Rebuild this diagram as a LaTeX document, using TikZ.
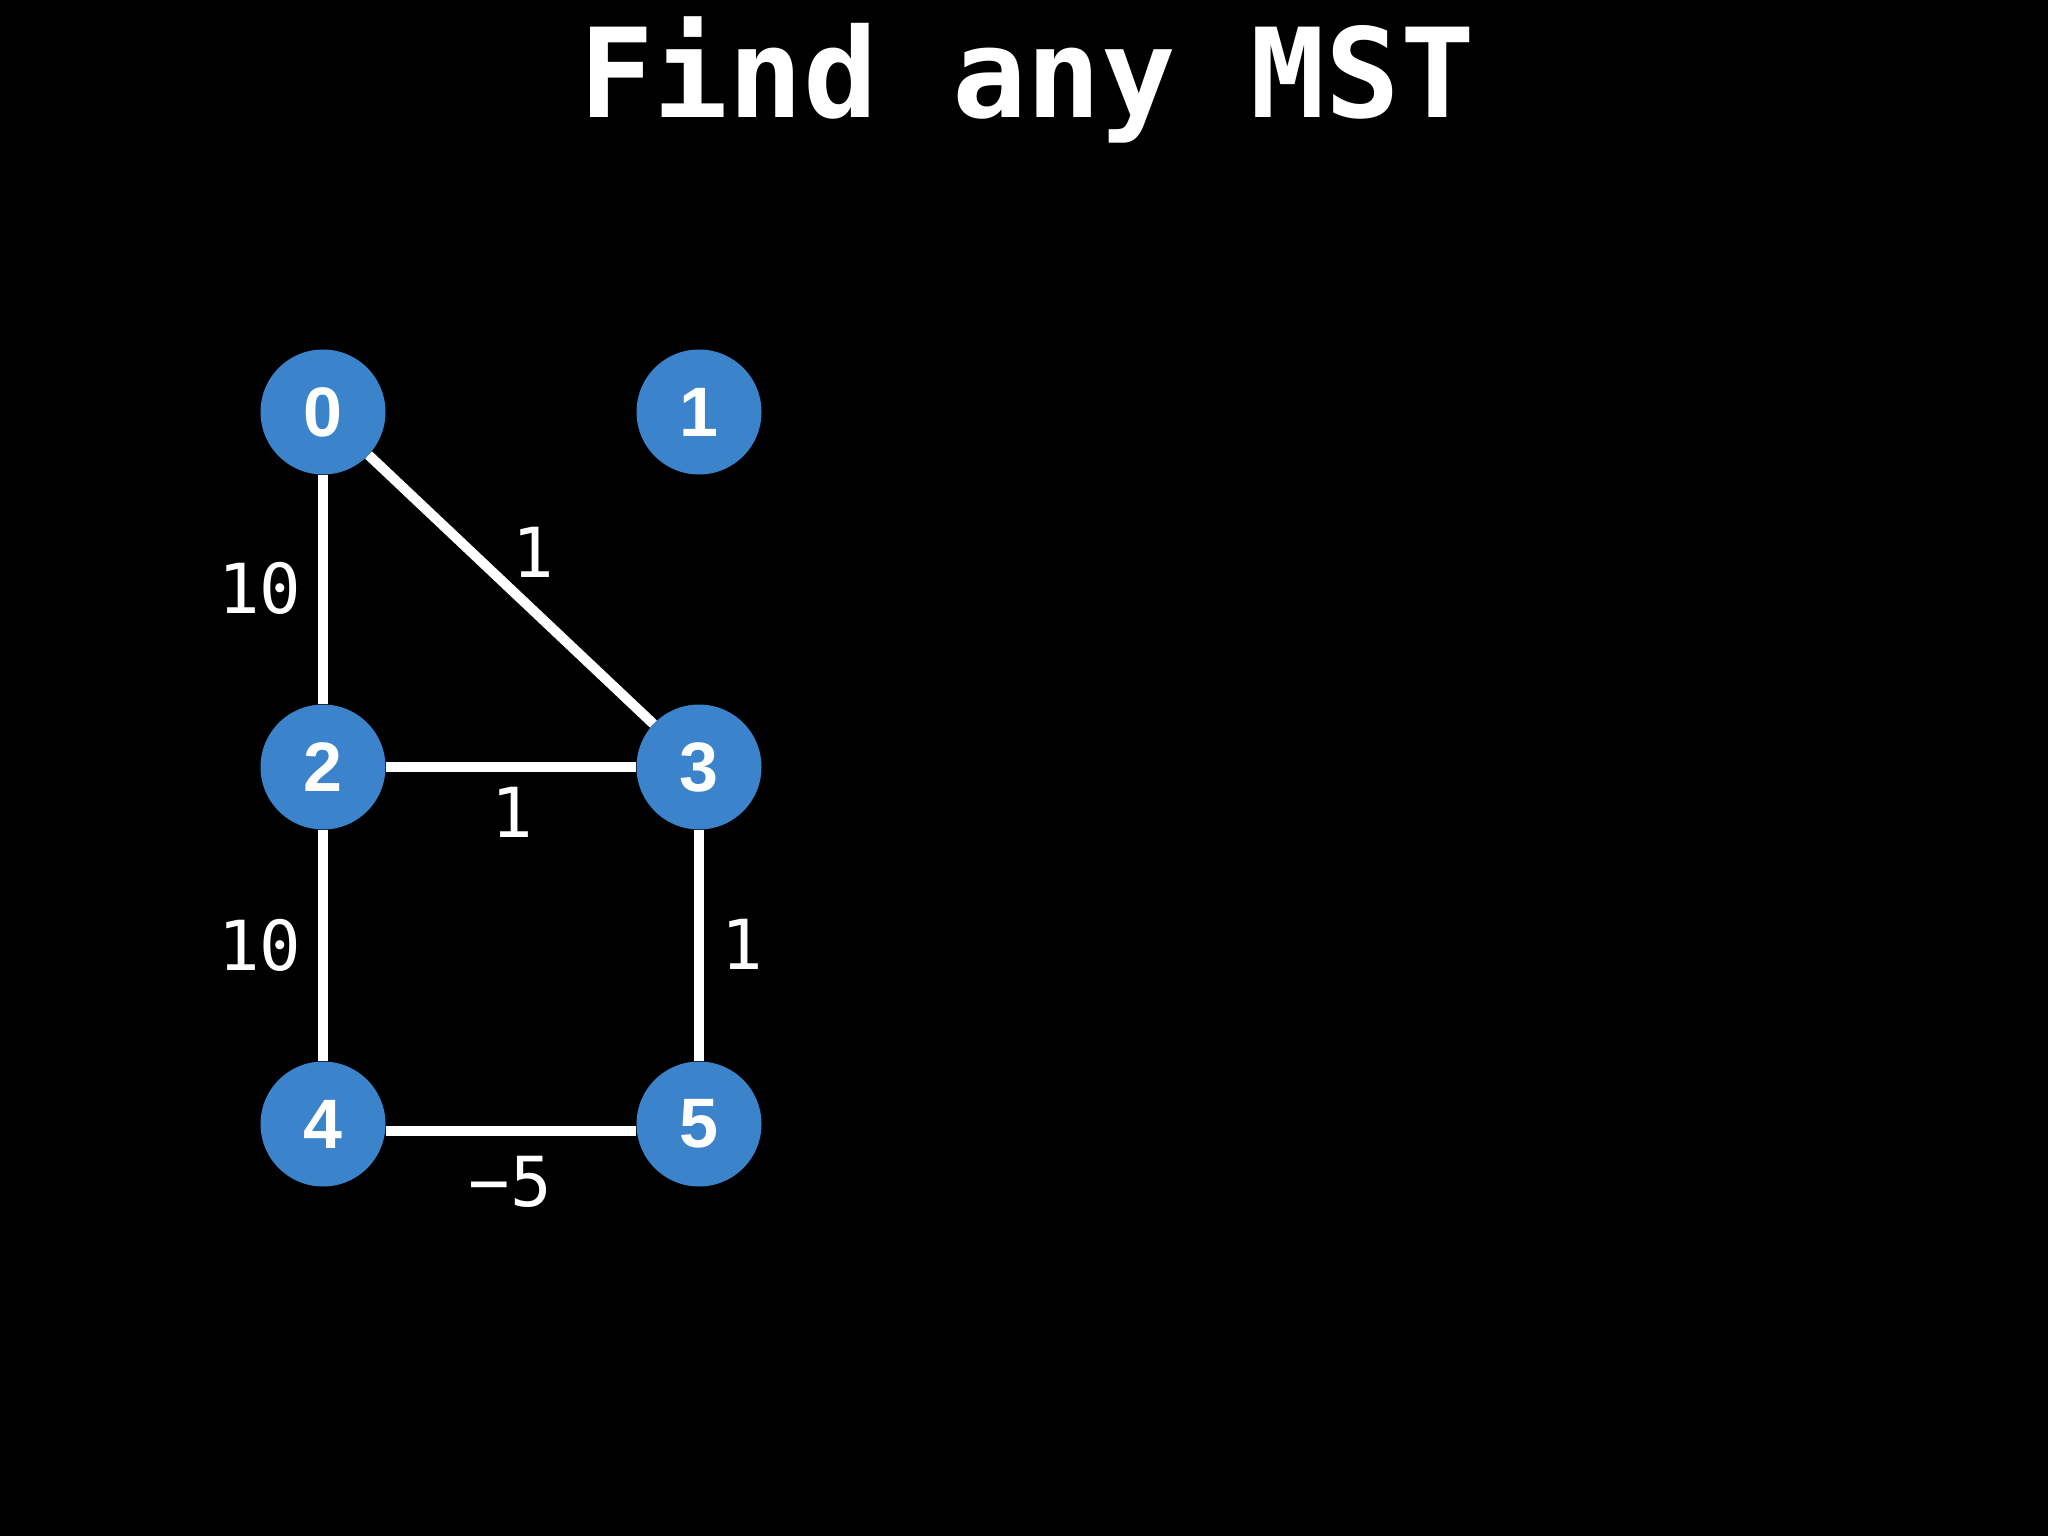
\documentclass[tikz,border=0pt]{standalone}
\usepackage{fontspec}
\setmonofont{DejaVu Sans Mono}
\setsansfont{Liberation Sans}
\definecolor{nodeblue}{RGB}{59,132,204}
\begin{document}
\begin{tikzpicture}[x=1pt,y=-1pt,
  vtx/.style={circle,fill=nodeblue,minimum size=125pt,inner sep=0pt,text=white,
    font=\sffamily\bfseries\fontsize{70}{70}\selectfont},
  edge/.style={draw=white,line width=10pt},
  wlabel/.style={text=white,inner sep=0pt,font=\ttfamily\fontsize{69}{69}\selectfont},
  ttl/.style={text=white,inner sep=0pt,anchor=base,font=\ttfamily\bfseries\fontsize{124}{124}\selectfont}]
\fill[black] (0,0) rectangle (2048,1536);
\useasboundingbox (0,0) rectangle (2048,1536);
\node[ttl] (title) at (1027,118) {Find any MST};
\node[vtx] (n0) at (323,412) {0};
\node[vtx] (n1) at (699,412) {1};
\node[vtx] (n2) at (323,767) {2};
\node[vtx] (n3) at (699,767) {3};
\node[vtx] (n4) at (323,1124) {4};
\node[vtx] (n5) at (699,1124) {5};
\draw[edge] (n0) -- (n2);
\draw[edge] (n0) -- (n3);
\draw[edge] (n2) -- (n3);
\draw[edge] (n2) -- (n4);
\draw[edge] (n3) -- (n5);
\draw[edge] ([yshift=-7pt]n4.east) -- ([yshift=-7pt]n5.west);
\node[wlabel] (l02) at (260,588) {10};
\node[wlabel] (l03) at (533,552) {1};
\node[wlabel] (l23) at (512,812) {1};
\node[wlabel] (l24) at (260,945) {10};
\node[wlabel] (l35) at (742,944) {1};
\node[wlabel] (l45) at (510,1182) {−5};
\end{tikzpicture}
\end{document}
